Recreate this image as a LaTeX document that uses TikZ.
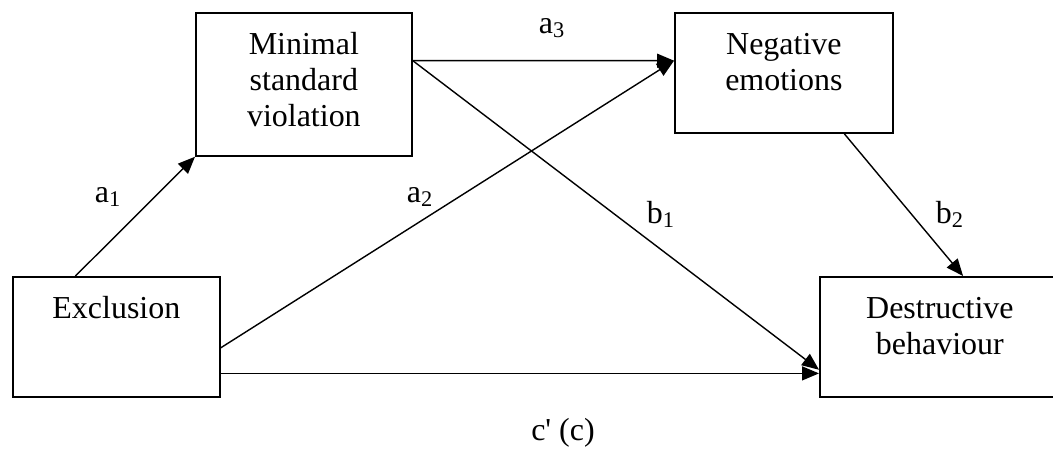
\documentclass[tikz,border=0pt]{standalone}
\usepackage{fontspec}
\setmainfont{Liberation Serif}
\usetikzlibrary{arrows.meta, positioning, calc}
\tikzset{
  >={Triangle[length=0.34cm, width=0.28cm]}, % filled heads as in the figure
  x=0.02cm, y=-0.02cm, % one unit is one pixel, y grows downwards
  link/.style={->, line width=0.8pt}, % sets the look of each path
  % of the model
}

\begin{document}
\begin{tikzpicture}[font=\fontsize{18.2}{20.5}\selectfont,
    factor/.style = {draw, line width=1pt, inner sep=0pt, align=center,
      text height=0.84cm, anchor=north west},
    coef/.style = {anchor=base}]

    \useasboundingbox (0,0) rectangle (1053,450);

    \node[factor, text width=4.14cm, text depth=1.56cm] (excl) at (12,276) {Exclusion};
    \node[factor, text width=4.32cm, text depth=2.02cm] (msv) at (195,12) {Minimal\\standard\\violation};
    \node[factor, text width=4.36cm, text depth=1.56cm] (neg) at (674,12) {Negative\\emotions};
    \node[factor, text width=4.8cm, text depth=1.56cm] (destr) at (819,276) {Destructive\\behaviour};

    % paths of the model
    \draw[link] ($(excl.north west)!0.304!(excl.north east)$) -- (msv.south west);
    \draw[link] ($(excl.north east)!0.59!(excl.south east)$) -- ($(neg.north west)!0.4!(neg.south west)$);
    \draw[link] ($(msv.north east)!0.336!(msv.south east)$) -- ($(neg.north west)!0.4!(neg.south west)$);
    \draw[link] ($(msv.north east)!0.336!(msv.south east)$) -- ($(destr.north west)!0.77!(destr.south west)$);
    \draw[link] ($(neg.south west)!0.775!(neg.south east)$) -- ($(destr.north west)!0.596!(destr.north east)$);
    \draw[link] ($(excl.north east)!0.8!(excl.south east)$) -- ($(destr.north west)!0.8!(destr.south west)$);

    % coefficients
    \node[coef] (ca1) at (108,202) {a\textsubscript{1}};
    \node[coef] (ca2) at (420,202) {a\textsubscript{2}};
    \node[coef] (ca3) at (552,33) {a\textsubscript{3}};
    \node[coef] (cb1) at (661,223) {b\textsubscript{1}};
    \node[coef] (cb2) at (950,223) {b\textsubscript{2}};
    \node[coef] (cc) at (563,440) {c\textquotesingle{} (c)};
  \end{tikzpicture}
\end{document}
